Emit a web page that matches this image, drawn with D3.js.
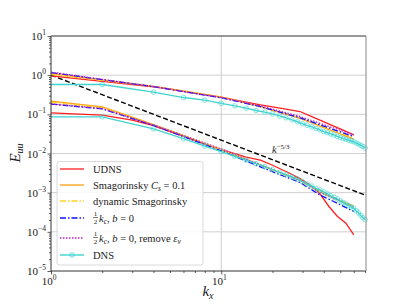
<!DOCTYPE html>
<html>
<head>
<meta charset="utf-8">
<script src="https://cdn.jsdelivr.net/npm/d3@7"></script>
<style>
  body { margin: 0; background: #fff; }
  text { font-family: "Liberation Serif", "DejaVu Serif", serif; fill: #222; }
</style>
</head>
<body>
<div id="chart"></div>
<script>
// wavenumbers of the LES runs and of the DNS
const kLES = [1, 2, 3, 4, 5, 6, 8, 10, 12, 14, 17, 20, 24, 29, 34, 38, 43, 48, 54, 60];
const kDNS = [1, 2, 4, 6, 8, 10, 12, 14, 16, 18, 20, 22, 24, 26, 28, 30, 32, 34, 36, 38,
  40, 42, 44, 46, 48, 50, 52, 54, 56, 58, 60, 62, 64, 66, 68, 70];

// upper group of spectra
const udnsHigh = [0.96, 0.695, 0.575, 0.502, 0.438, 0.387, 0.319, 0.275, 0.235, 0.206,
  0.174, 0.155, 0.135, 0.118, 0.0879, 0.0711, 0.0565, 0.0459, 0.0368, 0.030];
const smagHigh = [1.10, 0.757, 0.608, 0.520, 0.449, 0.394, 0.322, 0.275, 0.227, 0.193,
  0.157, 0.127, 0.101, 0.0791, 0.0605, 0.0501, 0.0408, 0.0339, 0.0278, 0.0233];
const dynHigh = [1.05, 0.735, 0.596, 0.513, 0.444, 0.390, 0.318, 0.272, 0.226, 0.194,
  0.160, 0.130, 0.103, 0.0815, 0.0630, 0.0525, 0.0431, 0.0361, 0.0298, 0.0251];
const halfHigh = [1.167, 0.769, 0.603, 0.507, 0.435, 0.381, 0.310, 0.264, 0.221, 0.190,
  0.157, 0.129, 0.103, 0.0815, 0.0641, 0.0540, 0.0449, 0.0379, 0.0318, 0.0271];
const halfRemHigh = [1.194, 0.782, 0.611, 0.513, 0.440, 0.385, 0.313, 0.267, 0.226, 0.196,
  0.164, 0.136, 0.110, 0.0879, 0.0695, 0.0589, 0.0491, 0.0417, 0.0351, 0.0300];
const dnsHigh = [0.577, 0.577, 0.369, 0.268, 0.230, 0.191, 0.165, 0.144, 0.125, 0.114,
  0.103, 0.0912, 0.0813, 0.0724, 0.0646, 0.0575, 0.0525, 0.0479, 0.0437, 0.0398,
  0.0363, 0.0339, 0.0316, 0.0295, 0.0275, 0.0257, 0.0240, 0.0229, 0.0219, 0.0209,
  0.0200, 0.0186, 0.0174, 0.0162, 0.0151, 0.0138];

// lower group of spectra
const udnsLow = [0.109, 0.0955, 0.0708, 0.0513, 0.0363, 0.0275, 0.0174, 0.0126, 0.0100, 0.00813,
  0.00676, 0.00501, 0.00347, 0.00229, 0.00145, 0.000933, 0.000437, 0.000251, 0.000166, 0.0000832];
const smagLow = [0.217, 0.155, 0.0843, 0.0550, 0.0384, 0.0286, 0.0179, 0.0124, 0.00914, 0.00706,
  0.00511, 0.00389, 0.00287, 0.00209, 0.00140, 0.00105, 0.000832, 0.000676, 0.000551, 0.000457];
const dynLow = [0.202, 0.148, 0.0815, 0.0533, 0.0378, 0.0283, 0.0179, 0.0126, 0.00916, 0.00698,
  0.00497, 0.00378, 0.00279, 0.00204, 0.00138, 0.00105, 0.000822, 0.000661, 0.000531, 0.000437];
const halfLow = [0.182, 0.138, 0.078, 0.052, 0.0366, 0.0272, 0.0169, 0.0117, 0.00847, 0.00641,
  0.00453, 0.00343, 0.00251, 0.00182, 0.00118, 0.000871, 0.000676, 0.000537, 0.000417, 0.000331];
const halfRemLow = [0.185, 0.141, 0.0798, 0.0532, 0.0381, 0.0288, 0.0186, 0.0132, 0.00951, 0.00719,
  0.00508, 0.00388, 0.00286, 0.00209, 0.00138, 0.00102, 0.000813, 0.000661, 0.000519, 0.000417];
const dnsLow = [0.0863, 0.0863, 0.0427, 0.0240, 0.0155, 0.0112, 0.00851, 0.00676, 0.00550, 0.00462,
  0.00389, 0.00331, 0.00288, 0.00251, 0.00224, 0.00191, 0.00166, 0.00148, 0.00129, 0.00117,
  0.00105, 0.000933, 0.000832, 0.000759, 0.000692, 0.000617, 0.000562, 0.000513, 0.000468, 0.000427,
  0.000398, 0.000347, 0.000302, 0.000263, 0.000229, 0.000204];

// k^-5/3 reference line end points
const refK = [1, 70.8];
const refE = [1.0, 0.00085];

const xTicks = [1, 10];
const yTicks = [1e-5, 1e-4, 1e-3, 1e-2, 1e-1, 1, 10];
const yExps = ["−5", "−4", "−3", "−2", "−1", "0", "1"];
const xExps = ["0", "1"];

const series = [
  { name: "UDNS", color: "#ff2020", dash: null, k: kLES, high: udnsHigh, low: udnsLow },
  { name: "smag", color: "#ffa010", dash: null, k: kLES, high: smagHigh, low: smagLow },
  { name: "dyn", color: "#ffd21f", dash: "6,2,1.5,2", k: kLES, high: dynHigh, low: dynLow },
  { name: "half", color: "#1010ff", dash: "6,2,1.5,2", k: kLES, high: halfHigh, low: halfLow },
  { name: "halfRem", color: "#c020c8", dash: "1.5,1.5", k: kLES, high: halfRemHigh, low: halfRemLow },
  { name: "DNS", color: "#3fd4d0", dash: null, k: kDNS, high: dnsHigh, low: dnsLow, marker: true }
];

const width = 407, height = 305;
const svg = d3.select("#chart").append("svg")
  .attr("width", width)
  .attr("height", height);

const x = d3.scaleLog().domain([1, 70.8]).range([51, 366]);
const y = d3.scaleLog().domain([1e-5, 10]).range([271, 36]);

// grid on the major decades
const grid = svg.append("g");
grid.selectAll("line.gx").data(xTicks.slice(1)).join("line")
  .attr("x1", d => x(d)).attr("x2", d => x(d))
  .attr("y1", 36).attr("y2", 271)
  .attr("stroke", "#cfcfcf").attr("stroke-width", 1);
grid.selectAll("line.gy").data(yTicks.slice(1, -1)).join("line")
  .attr("x1", 51).attr("x2", 366)
  .attr("y1", d => y(d)).attr("y2", d => y(d))
  .attr("stroke", "#cfcfcf").attr("stroke-width", 1);

const plot = svg.append("g");
const line = d3.line().x(d => x(d[0])).y(d => y(d[1]));

// k^-5/3 slope
plot.append("path")
  .datum(d3.zip(refK, refE))
  .attr("d", line)
  .attr("fill", "none")
  .attr("stroke", "#000")
  .attr("stroke-width", 1.4)
  .attr("stroke-dasharray", "5,2.5");

["high", "low"].forEach(group => {
  series.forEach(s => {
    plot.append("path")
      .datum(d3.zip(s.k, s[group]))
      .attr("d", line)
      .attr("fill", "none")
      .attr("stroke", s.color)
      .attr("stroke-width", s.marker ? 1.4 : 1.3)
      .attr("stroke-dasharray", s.dash);
    if (s.marker) {
      plot.append("g").selectAll("circle")
        .data(d3.zip(s.k, s[group]).filter(d => d[0] > 1))
        .join("circle")
        .attr("cx", d => x(d[0]))
        .attr("cy", d => y(d[1]))
        .attr("r", 2.3)
        .attr("fill", "none")
        .attr("stroke", s.color)
        .attr("stroke-opacity", 0.8)
        .attr("stroke-width", 0.8);
    }
  });
});

svg.append("text")
  .attr("x", 272).attr("y", 153)
  .attr("font-size", 10.5)
  .call(t => {
    t.append("tspan").attr("font-style", "italic").text("k");
    t.append("tspan").attr("dy", -4).attr("font-size", 7).text("−5/3");
  });

// axes with log minor ticks
const minorX = x.ticks().filter(d => !xTicks.includes(d));
const minorY = y.ticks().filter(d => !yTicks.includes(d));

svg.append("g").attr("transform", "translate(0,271)")
  .call(d3.axisBottom(x).tickValues(xTicks).tickSize(3.5).tickFormat(""))
  .call(g => g.select(".domain").remove());
svg.append("g").attr("transform", "translate(0,271)")
  .call(d3.axisBottom(x).tickValues(minorX).tickSize(2).tickFormat(""))
  .call(g => g.select(".domain").remove());
svg.append("g").attr("transform", "translate(51,0)")
  .call(d3.axisLeft(y).tickValues(yTicks).tickSize(3.5).tickFormat(""))
  .call(g => g.select(".domain").remove());
svg.append("g").attr("transform", "translate(51,0)")
  .call(d3.axisLeft(y).tickValues(minorY).tickSize(2).tickFormat(""))
  .call(g => g.select(".domain").remove());
svg.selectAll(".tick line").attr("stroke", "#333").attr("stroke-width", 0.8);

// frame
svg.append("line").attr("x1", 51).attr("x2", 366).attr("y1", 36).attr("y2", 36)
  .attr("stroke", "#333").attr("stroke-width", 1);
svg.append("line").attr("x1", 51).attr("x2", 366).attr("y1", 271).attr("y2", 271)
  .attr("stroke", "#333").attr("stroke-width", 1);
svg.append("line").attr("x1", 51).attr("x2", 51).attr("y1", 36).attr("y2", 271)
  .attr("stroke", "#333").attr("stroke-width", 1);
svg.append("line").attr("x1", 366).attr("x2", 366).attr("y1", 36).attr("y2", 271)
  .attr("stroke", "#999").attr("stroke-width", 1.2);

// tick labels 10^n
svg.append("g").selectAll("text")
  .data(d3.zip(yTicks, yExps))
  .join("text")
  .attr("x", 46)
  .attr("y", d => y(d[0]) + 4)
  .attr("text-anchor", "end")
  .attr("font-size", 11)
  .each(function(d) {
    const t = d3.select(this);
    t.append("tspan").text("10");
    t.append("tspan").attr("dy", -5).attr("font-size", 7.5).text(d[1]);
  });

svg.append("g").selectAll("text")
  .data(d3.zip(xTicks, xExps))
  .join("text")
  .attr("x", d => x(d[0]) - 2)
  .attr("y", 285)
  .attr("text-anchor", "middle")
  .attr("font-size", 11)
  .each(function(d) {
    const t = d3.select(this);
    t.append("tspan").text("10");
    t.append("tspan").attr("dy", -5).attr("font-size", 7.5).text(d[1]);
  });

// axis labels
svg.append("text")
  .attr("transform", "translate(20,153) rotate(-90)")
  .attr("text-anchor", "middle")
  .attr("font-size", 15)
  .call(t => {
    t.append("tspan").attr("font-style", "italic").text("E");
    t.append("tspan").attr("font-style", "italic").attr("dy", 3).attr("font-size", 10).text("uu");
  });

svg.append("text")
  .attr("x", 208).attr("y", 296)
  .attr("text-anchor", "middle")
  .attr("font-size", 15)
  .call(t => {
    t.append("tspan").attr("font-style", "italic").text("k");
    t.append("tspan").attr("font-style", "italic").attr("dy", 3).attr("font-size", 10).text("x");
  });

// legend
const legend = svg.append("g");
legend.append("rect")
  .attr("x", 57).attr("y", 161.5)
  .attr("width", 146).attr("height", 103.5)
  .attr("rx", 2.5)
  .attr("fill", "#fff").attr("fill-opacity", 0.85)
  .attr("stroke", "#d0d0d0").attr("stroke-width", 0.8);

const rowY = [169, 185, 201, 218, 238, 255];

series.forEach((s, i) => {
  const yy = rowY[i];
  legend.append("line")
    .attr("x1", 60).attr("x2", 84)
    .attr("y1", yy).attr("y2", yy)
    .attr("stroke", s.color)
    .attr("stroke-width", s.marker ? 1.4 : 1.3)
    .attr("stroke-dasharray", s.dash);
  if (s.marker) {
    legend.append("circle")
      .attr("cx", 72).attr("cy", yy).attr("r", 2.3)
      .attr("fill", "none").attr("stroke", s.color).attr("stroke-width", 0.8);
  }
});

const lt = (i) => legend.append("text")
  .attr("x", 93).attr("y", rowY[i] + 3.5)
  .attr("font-size", 10.5);

lt(0).text("UDNS");
lt(1).call(t => {
  t.append("tspan").text("Smagorinsky ");
  t.append("tspan").attr("font-style", "italic").text("C");
  t.append("tspan").attr("font-style", "italic").attr("font-size", 7.5).attr("dy", 2).text("s");
  t.append("tspan").attr("dy", -2).text(" = 0.1");
});
lt(2).text("dynamic Smagorinsky");

// rows with a ½ fraction in front
[3, 4].forEach(i => {
  const yy = rowY[i];
  legend.append("text").attr("x", 95.5).attr("y", yy - 2)
    .attr("text-anchor", "middle").attr("font-size", 7).text("1");
  legend.append("line").attr("x1", 93).attr("x2", 98)
    .attr("y1", yy - 0.5).attr("y2", yy - 0.5)
    .attr("stroke", "#222").attr("stroke-width", 0.6);
  legend.append("text").attr("x", 95.5).attr("y", yy + 6)
    .attr("text-anchor", "middle").attr("font-size", 7).text("2");
  legend.append("text")
    .attr("x", 99).attr("y", yy + 3.5)
    .attr("font-size", 10.5)
    .call(t => {
      t.append("tspan").attr("font-style", "italic").text("k");
      t.append("tspan").attr("font-style", "italic").attr("font-size", 7.5).attr("dy", 2).text("c");
      t.append("tspan").attr("dy", -2).text(", ");
      t.append("tspan").attr("font-style", "italic").text("b");
      t.append("tspan").text(" = 0");
      if (i === 4) {
        t.append("tspan").text(", remove ");
        t.append("tspan").attr("font-style", "italic").text("ε");
        t.append("tspan").attr("font-style", "italic").attr("font-size", 7.5).attr("dy", 2).text("ν");
      }
    });
});
lt(5).text("DNS");
</script>
</body>
</html>
